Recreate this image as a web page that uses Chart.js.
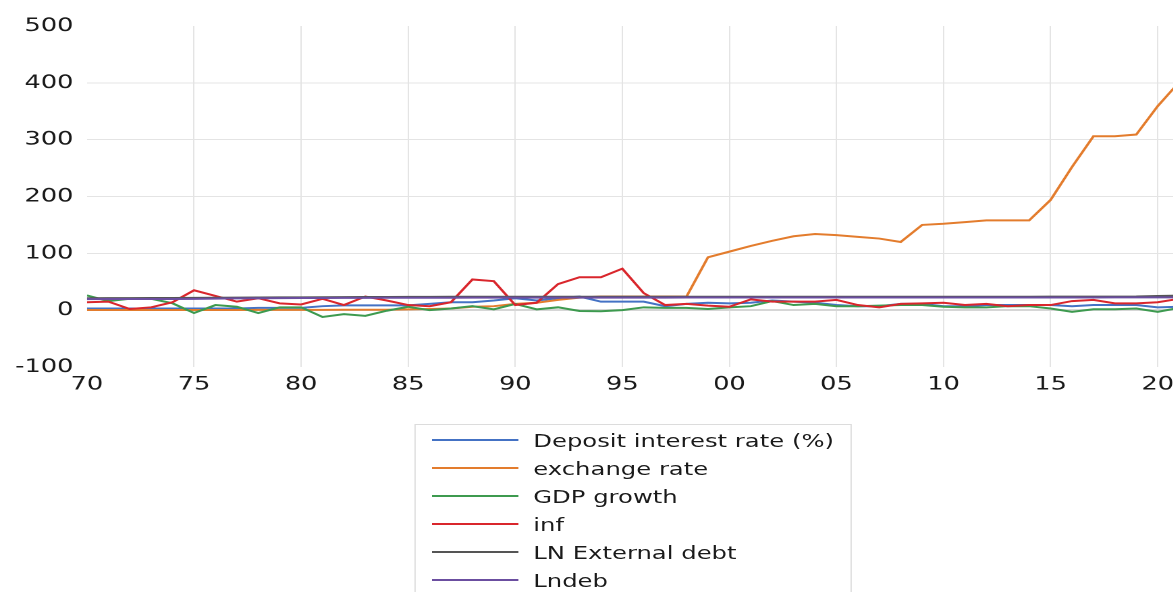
<!DOCTYPE html>
<html>
<head>
<meta charset="utf-8">
<script src="https://cdn.jsdelivr.net/npm/chart.js@4/dist/chart.umd.min.js"></script>
<style>
  html, body { margin: 0; padding: 0; background: #fff; overflow: hidden; }
  #stage { position: absolute; left: 0; top: 0; width: 876px; height: 640px; transform: scaleX(1.35); transform-origin: 0 0; }
  #chart { position: absolute; left: 0; top: 0; }
  #legend { position: absolute; left: 307px; top: 424px; width: 324px; border: 1px solid #dcdcdc; padding: 1px 0 6px 0; box-sizing: border-box; font-family: "DejaVu Sans", sans-serif; font-size: 18px; color: #1a1a1a; }
  .row { height: 28px; display: flex; align-items: center; white-space: nowrap; }
  .swatch { width: 64px; height: 2px; margin-left: 12px; margin-right: 11px; flex: none; }
</style>
</head>
<body>
<div id="stage">
  <canvas id="chart" width="876" height="400"></canvas>
  <div id="legend"></div>
</div>
<script>
const years = [1970,1971,1972,1973,1974,1975,1976,1977,1978,1979,1980,1981,1982,1983,1984,1985,1986,1987,1988,1989,1990,1991,1992,1993,1994,1995,1996,1997,1998,1999,2000,2001,2002,2003,2004,2005,2006,2007,2008,2009,2010,2011,2012,2013,2014,2015,2016,2017,2018,2019,2020,2021];

const depositRate = [3,3,3,3,3,3,3,3,4,4,4,7,8.5,8.5,8.5,8.5,11,14,14,17,21,17,21,24,15,15,15,7,11,13,12,13,17,15,13,9,7,7,11,11,7,7,9,9,9,9,7,9,9,9,5,6];
const exchangeRate = [0.4,0.4,0.4,0.4,0.4,0.4,0.4,0.4,0.5,0.5,0.5,0.6,0.7,0.7,0.8,1.5,2,3,6,7,11,13,18,22,24,24,24,24,24,93,103,113,122,130,134,132,129,126,120,150,152,155,158,158,158,194,252,306,306,309,359,401];
const gdpGrowth = [26,16,20,20,12,-5,9,6,-5,5,5,-12,-7,-10,-1,6,0,3,7,1.5,11,1.5,5,-1.5,-2,0,5,4,4,2,5,7,16,9,11,7,7,8,9,9,6,5,5,7,7,3,-3,1.6,1.6,3,-3,4];
const inflation = [14,15,2,5,14,35,25,15,21,12,10,20,9,24,17,9,7,14,54,51,9,13,46,58,58,73,30,9,11,8,6,19,15,15,15,18,9,5,11,12,13,9,11,7,9,9,16,18,12,12,14,20];
const lnExternalDebt = [21.0,21.1,21.2,21.3,21.4,21.6,21.8,22.0,22.2,22.4,22.6,22.8,23.0,23.1,23.2,23.3,23.4,23.5,23.5,23.5,23.5,23.5,23.6,23.6,23.6,23.6,23.6,23.6,23.6,23.6,23.6,23.6,23.6,23.7,23.7,23.7,23.7,23.7,23.7,23.7,23.7,23.7,23.7,23.7,23.7,23.8,23.8,23.8,23.8,24.0,25.0,25.5];
const lndeb = [19.5,19.6,19.6,19.7,19.7,19.8,20.2,20.8,21.0,21.2,21.4,21.5,21.6,21.7,21.8,21.8,21.9,21.9,22.0,22.0,22.0,22.0,22.1,22.1,22.1,22.1,22.1,22.1,22.2,22.2,22.2,22.2,22.2,22.2,22.3,22.3,22.3,22.3,22.3,22.3,22.3,22.3,22.3,22.3,22.3,22.3,22.3,22.3,22.4,22.4,22.5,22.6];

const seriesLabels = ["Deposit interest rate (%)","exchange rate","GDP growth","inf","LN External debt","Lndeb"];
const seriesColors = ["#4472c4","#e37c2d","#3d9a4f","#d9262c","#555555","#6b4ea0"];
const seriesValues = [depositRate, exchangeRate, gdpGrowth, inflation, lnExternalDebt, lndeb];

const xTickYears = [1970,1975,1980,1985,1990,1995,2000,2005,2010,2015,2020];
const xTickLabels = ["70","75","80","85","90","95","00","05","10","15","20"];
const yTickValues = [-100,0,100,200,300,400,500];
const yTickLabels = ["-100","0","100","200","300","400","500"];

const datasets = seriesValues.map((vals, i) => ({
  label: seriesLabels[i],
  data: years.map((y, j) => ({ x: y, y: vals[j] })),
  borderColor: seriesColors[i],
  backgroundColor: seriesColors[i],
  borderWidth: 2,
  pointRadius: 0,
  tension: 0,
  order: seriesValues.length - i
}));

const tickFont = { family: "DejaVu Sans", size: 19 };

new Chart(document.getElementById('chart'), {
  type: 'line',
  data: { datasets },
  options: {
    responsive: false,
    animation: false,
    devicePixelRatio: 2,
    layout: { padding: { top: 26, right: 2.6, bottom: 0, left: 0 } },
    plugins: { legend: { display: false }, tooltip: { enabled: false } },
    scales: {
      x: {
        type: 'linear',
        min: 1970,
        max: 2021,
        afterBuildTicks: (s) => { s.ticks = xTickYears.map(v => ({ value: v })); },
        afterFit: (s) => { s.height = 33; },
        border: { display: false },
        grid: {
          drawTicks: false,
          lineWidth: 1,
          color: (c) => (c.tick && c.tick.value === 1970) ? 'rgba(0,0,0,0)' : '#e4e4e4'
        },
        ticks: {
          padding: 6,
          color: '#1a1a1a',
          font: tickFont,
          maxRotation: 0,
          autoSkip: false,
          callback: (v) => { const k = xTickYears.indexOf(v); return k >= 0 ? xTickLabels[k] : ''; }
        }
      },
      y: {
        min: -100,
        max: 500,
        afterBuildTicks: (s) => { s.ticks = yTickValues.map(v => ({ value: v })); },
        afterFit: (s) => { s.width = 64.4; },
        border: { display: false },
        grid: {
          drawTicks: false,
          lineWidth: (c) => (c.tick && c.tick.value === 0) ? 2 : 1,
          color: (c) => {
            if (!c.tick) return '#e4e4e4';
            if (c.tick.value === 500 || c.tick.value === -100) return 'rgba(0,0,0,0)';
            if (c.tick.value === 0) return '#d6d6d6';
            return '#e4e4e4';
          }
        },
        ticks: {
          padding: 10,
          color: '#1a1a1a',
          font: tickFont,
          callback: (v) => { const k = yTickValues.indexOf(v); return k >= 0 ? yTickLabels[k] : ''; }
        }
      }
    }
  }
});

const legend = document.getElementById('legend');
seriesLabels.forEach((lab, i) => {
  const row = document.createElement('div');
  row.className = 'row';
  const sw = document.createElement('span');
  sw.className = 'swatch';
  sw.style.background = seriesColors[i];
  const tx = document.createElement('span');
  tx.textContent = lab;
  row.appendChild(sw);
  row.appendChild(tx);
  legend.appendChild(row);
});
</script>
</body>
</html>
